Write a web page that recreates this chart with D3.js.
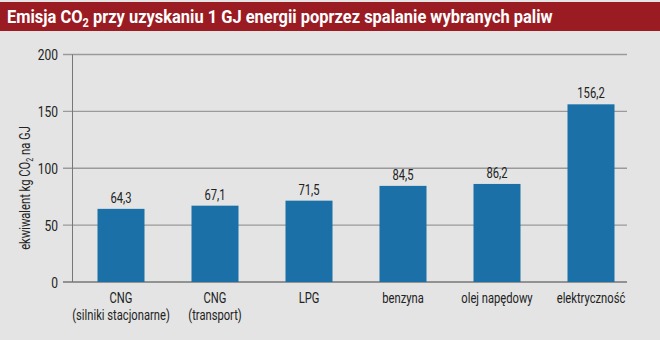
<!DOCTYPE html>
<html lang="pl">
<head>
<meta charset="UTF-8">
<script src="https://d3js.org/d3.v7.min.js"></script>
<style>
  body { margin: 0; background: #e3e4e3; }
  svg { display: block; }
  text { font-family: Roboto, "Liberation Sans", sans-serif; fill: #222; }
</style>
</head>
<body>
<div id="chart"></div>
<script>
var categories = [["CNG", "(silniki stacjonarne)"], ["CNG", "(transport)"], ["LPG"], ["benzyna"], ["olej napędowy"], ["elektryczność"]];
var values = [64.3, 67.1, 71.5, 84.5, 86.2, 156.2];
var yTicks = [0, 50, 100, 150, 200];

var W = 660, H = 340;
var SX = 0.8; // narrow the font to look condensed
var svg = d3.select("#chart").append("svg").attr("width", W).attr("height", H);

svg.append("rect").attr("width", W).attr("height", H).attr("fill", "#e3e4e3");

// helper for condensed text
function ctext(parent, x, y, str, size, anchor) {
  return parent.append("text")
    .attr("transform", "translate(" + x + "," + y + ") scale(" + SX + ",1)")
    .attr("text-anchor", anchor || "middle")
    .style("font-size", size + "px")
    .text(str);
}

// title bar
svg.append("rect").attr("x", 0).attr("y", 2).attr("width", W).attr("height", 29).attr("fill", "#9b1b23");
var title = svg.append("text").attr("transform", "translate(7,23)")
  .style("font-size", "18px").style("font-weight", "bold").style("fill", "#fff");
title.append("tspan").text("Emisja CO");
title.append("tspan").attr("dy", 4).style("font-size", "12px").text("2");
title.append("tspan").attr("dy", -4).text(" przy uzyskaniu 1 GJ energii poprzez spalanie wybranych paliw");
var tw = title.node().getComputedTextLength();
title.attr("transform", "translate(7,23) scale(" + (546 / tw) + ",1)");

var keys = categories.map(function(c) { return c.join(" "); });
var x = d3.scaleBand().domain(keys).range([74, 638]).paddingInner(0.5).paddingOuter(0.25);
var y = d3.scaleLinear().domain([0, 200]).range([282, 54.5]);

// gridlines
svg.append("g").selectAll("line").data(yTicks).enter().append("line")
  .attr("x1", 63).attr("x2", 627)
  .attr("y1", function(d) { return y(d); }).attr("y2", function(d) { return y(d); })
  .attr("stroke", function(d) { return d === 0 ? "#777" : "#9a9a9a"; })
  .attr("stroke-width", 1.3);

// y axis line
svg.append("line").attr("x1", 72.5).attr("x2", 72.5).attr("y1", y(200)).attr("y2", y(0))
  .attr("stroke", "#777").attr("stroke-width", 1);

// tick labels
var gt = svg.append("g");
yTicks.forEach(function(d) { ctext(gt, 58, y(d) + 5.5, d, 15, "end"); });

// y axis title
var yt = svg.append("text").attr("transform", "translate(30,188) rotate(-90) scale(" + SX + ",1)")
  .attr("text-anchor", "middle").style("font-size", "14px");
yt.append("tspan").text("ekwiwalent kg CO");
yt.append("tspan").attr("dy", 3).style("font-size", "9px").text("2");
yt.append("tspan").attr("dy", -3).text(" na GJ");

// bars
svg.append("g").selectAll("rect").data(values).enter().append("rect")
  .attr("x", function(d, i) { return x(keys[i]); })
  .attr("width", x.bandwidth())
  .attr("y", function(d) { return y(d); })
  .attr("height", function(d) { return y(0) - y(d); })
  .attr("fill", "#1b70a8");

// value labels
var gv = svg.append("g");
values.forEach(function(d, i) {
  ctext(gv, x(keys[i]) + x.bandwidth() / 2, y(d) - 6, d3.format(".1f")(d).replace(".", ","), 14);
});

// category labels
var gc = svg.append("g");
categories.forEach(function(c, i) {
  c.forEach(function(line, j) {
    ctext(gc, x(keys[i]) + x.bandwidth() / 2, 303 + j * 17, line, 14);
  });
});
</script>
</body>
</html>
